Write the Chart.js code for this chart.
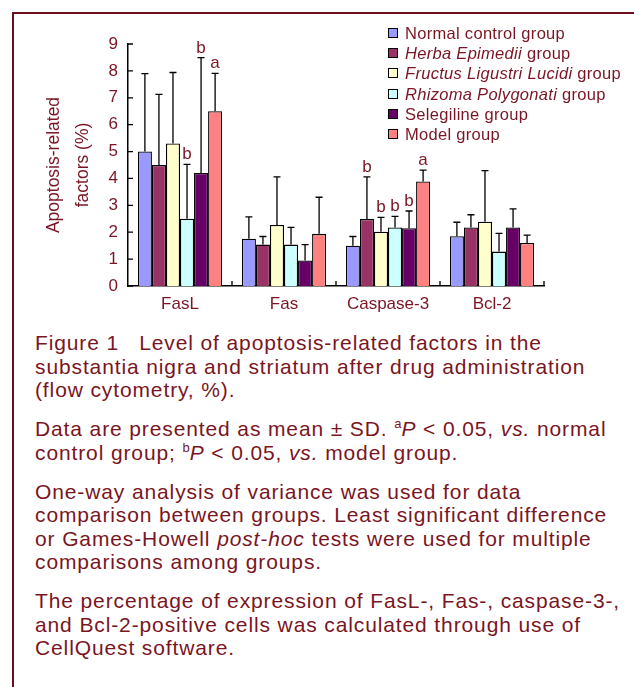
<!DOCTYPE html>
<html>
<head>
<meta charset="utf-8">
<script src="https://cdn.jsdelivr.net/npm/chart.js@4.4.0/dist/chart.umd.min.js"></script>
<style>
  html, body { margin: 0; padding: 0; background: #fff; overflow: hidden; }
  body { width: 634px; height: 687px; position: relative; font-family: "Liberation Sans", Arial, sans-serif; color: #7a1523; }
  #frame { position: absolute; left: 12px; top: 12px; width: 700px; height: 800px; border-top: 2px solid #6d0e1c; border-left: 2px solid #6d0e1c; }
  #wrap { position: absolute; left: 0; top: 0; width: 634px; height: 330px; }
  #legend { position: absolute; left: 388px; top: 23px; margin: 0; padding: 0; list-style: none; font-size: 16.5px; line-height: 20.2px; letter-spacing: 0.3px; }
  #legend li { white-space: nowrap; }
  #legend .box { display: inline-block; width: 8px; height: 8px; border: 1px solid #000; margin-right: 7px; vertical-align: 1px; }
  #caption { position: absolute; left: 35px; top: 331px; width: 620px; font-size: 21px; line-height: 23.5px; letter-spacing: 0.88px; white-space: nowrap; }
  #caption p { margin: 0 0 15.5px 0; }
  #caption sup { font-size: 13px; line-height: 0; vertical-align: 8px; letter-spacing: 0; }
</style>
</head>
<body>
<div id="frame"></div>
<div id="wrap"><canvas id="chart"></canvas></div>
<ul id="legend"></ul>
<div id="caption">
  <p>Figure 1&nbsp;&nbsp;&nbsp;Level of apoptosis-related factors in the<br>substantia nigra and striatum after drug administration<br>(flow cytometry, %).</p>
  <p>Data are presented as mean ± SD. <sup>a</sup><i>P</i> &lt; 0.05, <i>vs.</i> normal<br>control group; <sup>b</sup><i>P</i> &lt; 0.05, <i>vs.</i> model group.</p>
  <p>One-way analysis of variance was used for data<br>comparison between groups. Least significant difference<br>or Games-Howell <i>post-hoc</i> tests were used for multiple<br>comparisons among groups.</p>
  <p>The percentage of expression of FasL-, Fas-, caspase-3-,<br>and Bcl-2-positive cells was calculated through use of<br>CellQuest software.</p>
</div>
<script>
// values
const categories = ['FasL', 'Fas', 'Caspase-3', 'Bcl-2'];
const groups = ['Normal control group', 'Herba Epimedii group', 'Fructus Ligustri Lucidi group',
                'Rhizoma Polygonati group', 'Selegiline group', 'Model group'];
const italicParts = [null, 'Herba Epimedii', 'Fructus Ligustri Lucidi', 'Rhizoma Polygonati', null, null];
const colors = ['#9999ff', '#993366', '#ffffcc', '#ccffff', '#660066', '#ff8080'];

const normalMean = [5.0, 1.76, 1.5, 1.85];
const normalSD   = [2.9, 0.81, 0.34, 0.52];
const herbaMean  = [4.5, 1.54, 2.49, 2.18];
const herbaSD    = [2.63, 0.3, 1.57, 0.47];
const fructusMean = [5.3, 2.27, 2.02, 2.39];
const fructusSD   = [2.64, 1.79, 0.53, 1.9];
const rhizomaMean = [2.5, 1.54, 2.18, 1.28];
const rhizomaSD   = [2.02, 0.64, 0.41, 0.68];
const selegilineMean = [4.2, 0.95, 2.15, 2.18];
const selegilineSD   = [4.29, 0.59, 0.64, 0.69];
const modelMean = [6.5, 1.94, 3.89, 1.6];
const modelSD   = [1.41, 1.36, 0.42, 0.29];

// significance letters over the error bars
const normalMarks = ['', '', '', ''];
const herbaMarks = ['', '', 'b', ''];
const fructusMarks = ['', '', 'b', ''];
const rhizomaMarks = ['b', '', 'b', ''];
const selegilineMarks = ['b', '', 'b', ''];
const modelMarks = ['a', '', 'a', ''];

const yTicks = [0, 1, 2, 3, 4, 5, 6, 7, 8, 9];

const means = [normalMean, herbaMean, fructusMean, rhizomaMean, selegilineMean, modelMean];
const sds = [normalSD, herbaSD, fructusSD, rhizomaSD, selegilineSD, modelSD];
const marks = [normalMarks, herbaMarks, fructusMarks, rhizomaMarks, selegilineMarks, modelMarks];

const textColor = '#7a1523';
const fontFamily = '"Liberation Sans", Arial, sans-serif';

// legend (html, because of the italic names)
document.getElementById('legend').innerHTML = groups.map((g, i) => {
    const it = italicParts[i];
    const label = it ? g.replace(it, '<i>' + it + '</i>') : g;
    return `<li><span class="box" style="background:${colors[i]}"></span>${label}</li>`;
}).join('');

const errorBars = {
    id: 'errorBars',
    afterDatasetsDraw(chart) {
        const ctx = chart.ctx;
        const y = chart.scales.y;
        ctx.save();
        ctx.strokeStyle = '#000';
        ctx.lineWidth = 1.3;
        chart.data.datasets.forEach((ds, i) => {
            const meta = chart.getDatasetMeta(i);
            meta.data.forEach((bar, j) => {
                const top = y.getPixelForValue(ds.data[j] + sds[i][j]);
                ctx.beginPath();
                ctx.moveTo(bar.x, bar.y);
                ctx.lineTo(bar.x, top);
                ctx.moveTo(bar.x - 3.5, top);
                ctx.lineTo(bar.x + 3.5, top);
                ctx.stroke();
                const m = marks[i][j];
                if (m) {
                    ctx.fillStyle = textColor;
                    ctx.font = '17px ' + fontFamily;
                    ctx.textAlign = 'center';
                    ctx.textBaseline = 'alphabetic';
                    ctx.fillText(m, bar.x, top - 5);
                }
            });
        });
        ctx.restore();
    },
    afterDraw(chart) {
        // inside tick marks, like the original
        const ctx = chart.ctx;
        const x = chart.scales.x, y = chart.scales.y;
        ctx.save();
        ctx.strokeStyle = '#000';
        ctx.lineWidth = 1.3;
        ctx.beginPath();
        yTicks.forEach(v => {
            const py = y.getPixelForValue(v);
            ctx.moveTo(x.left, py);
            ctx.lineTo(x.left + 5, py);
        });
        const step = (x.right - x.left) / categories.length;
        for (let i = 1; i <= categories.length; i++) {
            const px = x.left + i * step;
            ctx.moveTo(px, y.bottom);
            ctx.lineTo(px, y.bottom - 5);
        }
        ctx.stroke();
        ctx.restore();
    }
};

new Chart(document.getElementById('chart'), {
    type: 'bar',
    data: {
        labels: categories,
        datasets: groups.map((g, i) => ({
            label: g,
            data: means[i],
            backgroundColor: colors[i],
            borderColor: '#000',
            borderWidth: 1.3,
            categoryPercentage: 0.81,
            barPercentage: 1.0
        }))
    },
    options: {
        responsive: true, maintainAspectRatio: false,
        animation: false,
        layout: { padding: { left: 0, right: 90, top: 44, bottom: 14 } },
        plugins: { legend: { display: false }, tooltip: { enabled: false } },
        scales: {
            x: {
                grid: { display: false, drawTicks: false },
                border: { display: true, color: '#000', width: 1.5 },
                ticks: { color: textColor, font: { size: 17, family: fontFamily }, padding: 8 },
                afterFit: s => { s.height = 30; }
            },
            y: {
                min: 0, max: 9,
                grid: { display: false, drawTicks: false },
                border: { display: true, color: '#000', width: 1.5 },
                ticks: { stepSize: 1, color: textColor, font: { size: 17, family: fontFamily }, padding: 10 },
                title: {
                    display: true,
                    text: ['Apoptosis-related', 'factors (%)'],
                    color: textColor,
                    font: { size: 17.5, lineHeight: 1.65, family: fontFamily },
                    padding: { top: 40, bottom: 0 }
                },
                afterFit: s => { s.width = 128; }
            }
        }
    },
    plugins: [errorBars]
});
</script>
</body>
</html>
